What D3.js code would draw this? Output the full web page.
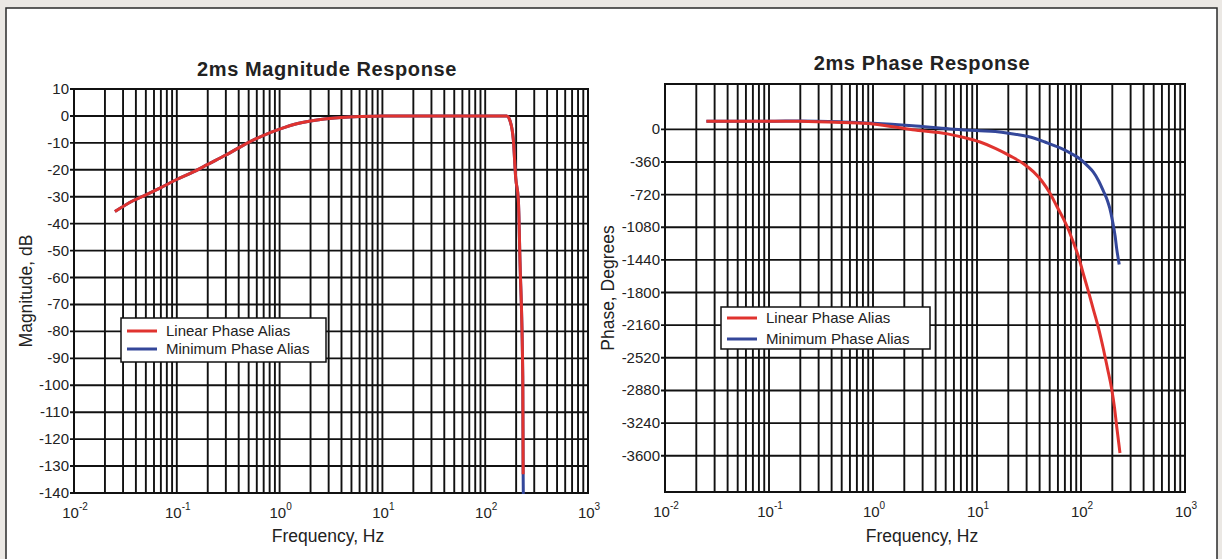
<!DOCTYPE html>
<html>
<head>
<meta charset="utf-8">
<script src="https://cdn.jsdelivr.net/npm/d3@7"></script>
<style>
  body { margin: 0; background: #ebe8e4; }
  svg { display: block; font-family: "Liberation Sans", Arial, sans-serif; }
</style>
</head>
<body>
<div id="chart"></div>
<script>
// ---- data ----
const seriesNames = ["Linear Phase Alias", "Minimum Phase Alias"];
const seriesColors = ["#e0332f", "#34479a"];

// magnitude response (dB)
const magFreq = [0.025, 0.0375, 0.05, 0.07, 0.1, 0.145, 0.2, 0.3, 0.5, 0.7, 1.0, 1.5, 2.5, 4, 6, 10, 30, 100, 162, 175, 188, 198, 210, 218, 232, 234, 235];
const magLinear = [-35.5, -31.5, -29.3, -26.6, -23.6, -20.8, -18.0, -14.5, -9.8, -7.2, -4.9, -2.8, -1.3, -0.6, -0.25, 0, 0, 0, 0, -2, -9, -23, -31, -54, -97, -133, null];
const magMinimum = [-35.5, -31.5, -29.3, -26.6, -23.6, -20.8, -18.0, -14.5, -9.8, -7.2, -4.9, -2.8, -1.3, -0.6, -0.25, 0, 0, 0, 0, -2, -9, -23, -31, -54, -97, -133, -142];
const magTicks = [10, 0, -10, -20, -30, -40, -50, -60, -70, -80, -90, -100, -110, -120, -130, -140];

// phase response (degrees)
const phaseFreqLinear = [0.025, 0.1, 0.2, 0.5, 1.0, 2.4, 5.2, 7.5, 10.7, 15, 21, 28, 35, 42, 50, 58, 68, 76, 84, 95, 105, 118, 131, 148, 164, 180, 197, 210, 220, 237];
const phaseLinear = [90, 90, 88, 75, 60, -5, -50, -90, -140, -210, -295, -380, -470, -570, -700, -840, -990, -1110, -1240, -1410, -1590, -1790, -1980, -2200, -2420, -2640, -2860, -3070, -3270, -3570];
const phaseFreqMinimum = [0.025, 0.1, 0.2, 0.5, 1.0, 2.4, 5.5, 10.7, 15, 20, 25, 35, 45, 63, 80, 98, 115, 131, 148, 164, 180, 189, 200, 213, 220, 233];
const phaseMinimum = [90, 90, 92, 82, 68, 40, 5, -15, -25, -42, -60, -96, -140, -205, -265, -327, -400, -470, -570, -680, -790, -870, -1000, -1180, -1310, -1490];
const phaseTicks = [0, -360, -720, -1080, -1440, -1800, -2160, -2520, -2880, -3240, -3600];

const decades = [-2, -1, 0, 1, 2, 3];

const W = 1222, H = 559;
const svg = d3.select("#chart").append("svg")
    .attr("width", W).attr("height", H);

// white sheet with border
svg.append("rect")
    .attr("x", 6).attr("y", 8)
    .attr("width", 1211).attr("height", 560)
    .attr("fill", "#fff")
    .attr("stroke", "#2a2a2a").attr("stroke-width", 1.5);

function drawPanel(cfg) {
    const g = svg.append("g");
    const x = d3.scaleLog().domain([0.01, 1000]).range([cfg.left, cfg.right]);
    const y = d3.scaleLinear().domain(cfg.yDomain).range([cfg.bottom, cfg.top]);

    // vertical grid on every log minor
    const vLines = [];
    decades.slice(0, -1).forEach(d => {
        for (let k = 1; k <= 9; k++) vLines.push(k * Math.pow(10, d));
    });
    vLines.push(1000);
    g.selectAll("line.vgrid").data(vLines).join("line")
        .attr("class", "vgrid")
        .attr("x1", d => x(d)).attr("x2", d => x(d))
        .attr("y1", cfg.top).attr("y2", cfg.bottom)
        .attr("stroke", "#111").attr("stroke-width", 1.9);

    // horizontal grid at ticks
    g.selectAll("line.hgrid").data(cfg.ticks).join("line")
        .attr("class", "hgrid")
        .attr("x1", cfg.left - 4).attr("x2", cfg.right)
        .attr("y1", d => y(d)).attr("y2", d => y(d))
        .attr("stroke", "#111").attr("stroke-width", 1.9);

    // frame
    g.append("rect")
        .attr("x", cfg.left).attr("y", cfg.top)
        .attr("width", cfg.right - cfg.left).attr("height", cfg.bottom - cfg.top)
        .attr("fill", "none").attr("stroke", "#111").attr("stroke-width", 2);

    // y tick labels
    g.selectAll("text.ytick").data(cfg.ticks).join("text")
        .attr("class", "ytick")
        .attr("x", cfg.left - 5).attr("y", d => y(d) + 5)
        .attr("text-anchor", "end")
        .attr("font-size", 15).attr("fill", "#222")
        .text(d => d);

    // x tick labels 10^n
    const xt = g.selectAll("text.xtick").data(decades).join("text")
        .attr("class", "xtick")
        .attr("x", d => x(Math.pow(10, d)) + 1).attr("y", cfg.bottom + 25)
        .attr("text-anchor", "middle")
        .attr("font-size", 15).attr("fill", "#222");
    xt.append("tspan").text("10");
    xt.append("tspan").attr("dy", -8).attr("font-size", 10).text(d => d);

    // titles
    g.append("text")
        .attr("x", cfg.titleX).attr("y", cfg.titleY)
        .attr("text-anchor", "middle")
        .attr("font-size", 20).attr("font-weight", "bold")
        .attr("letter-spacing", 0.6).attr("fill", "#222")
        .text(cfg.title);

    g.append("text")
        .attr("x", (cfg.left + cfg.right) / 2 - 3).attr("y", 542)
        .attr("text-anchor", "middle")
        .attr("font-size", 17.5).attr("fill", "#222")
        .text("Frequency, Hz");

    g.append("text")
        .attr("transform", `translate(${cfg.yLabelX}, ${(cfg.top + cfg.bottom) / 2}) rotate(-90)`)
        .attr("text-anchor", "middle")
        .attr("font-size", 17.5).attr("fill", "#222")
        .text(cfg.yLabel);

    // curves
    const clipId = "clip-" + cfg.id;
    svg.append("clipPath").attr("id", clipId)
        .append("rect")
        .attr("x", cfg.left).attr("y", cfg.top)
        .attr("width", cfg.right - cfg.left).attr("height", cfg.bottom - cfg.top + 1);

    const line = d3.line()
        .defined(d => d[1] !== null)
        .x(d => x(d[0])).y(d => y(d[1]))
        .curve(d3.curveMonotoneX);

    // minimum phase first, linear on top
    [1, 0].forEach(i => {
        const s = cfg.series[i];
        g.append("path")
            .datum(d3.zip(s.freq, s.values))
            .attr("clip-path", `url(#${clipId})`)
            .attr("d", line)
            .attr("fill", "none")
            .attr("stroke", seriesColors[i])
            .attr("stroke-width", 3)
            .attr("stroke-linejoin", "round");
    });

    // legend
    const lg = g.append("g").attr("transform", `translate(${cfg.legend.x}, ${cfg.legend.y})`);
    lg.append("rect")
        .attr("width", cfg.legend.w).attr("height", cfg.legend.h)
        .attr("fill", "#fff").attr("stroke", "#111").attr("stroke-width", 1.5);
    seriesNames.forEach((name, i) => {
        const ly = cfg.legend.row0 + i * cfg.legend.step;
        lg.append("line")
            .attr("x1", 6).attr("x2", 36)
            .attr("y1", ly).attr("y2", ly)
            .attr("stroke", seriesColors[i]).attr("stroke-width", 3);
        lg.append("text")
            .attr("x", 45).attr("y", ly + 5)
            .attr("font-size", 15).attr("fill", "#222")
            .text(name);
    });
}

drawPanel({
    id: "mag",
    left: 74, right: 588, top: 89, bottom: 493,
    yDomain: [-140, 10],
    ticks: magTicks,
    title: "2ms Magnitude Response", titleX: 327, titleY: 76,
    yLabel: "Magnitude, dB", yLabelX: 32,
    legend: { x: 121, y: 318, w: 205, h: 44, row0: 13, step: 18 },
    series: [
        { freq: magFreq, values: magLinear },
        { freq: magFreq, values: magMinimum }
    ]
});

drawPanel({
    id: "phase",
    left: 665, right: 1185, top: 84, bottom: 492,
    yDomain: [-4000, 500],
    ticks: phaseTicks,
    title: "2ms Phase Response", titleX: 922, titleY: 70,
    yLabel: "Phase, Degrees", yLabelX: 614,
    legend: { x: 721, y: 307, w: 209, h: 42, row0: 11, step: 21 },
    series: [
        { freq: phaseFreqLinear, values: phaseLinear },
        { freq: phaseFreqMinimum, values: phaseMinimum }
    ]
});
</script>
</body>
</html>
